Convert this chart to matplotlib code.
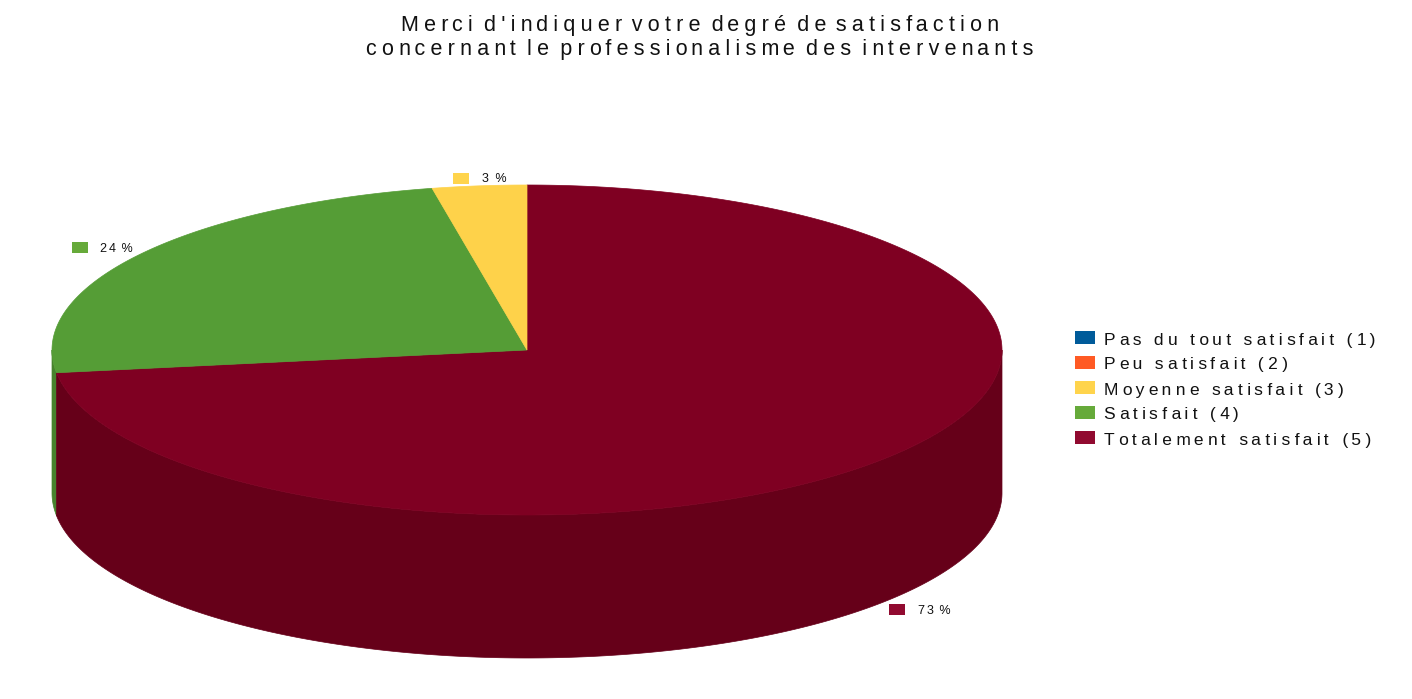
#!/usr/bin/env python

import numpy as np
import matplotlib
matplotlib.use('Agg')
import matplotlib.pyplot as plt

title = "Merci d'indiquer votre degré de satisfaction\nconcernant le professionalisme des intervenants"
categories = ['Pas du tout satisfait (1)', 'Peu satisfait (2)', 'Moyenne satisfait (3)',
              'Satisfait (4)', 'Totalement satisfait (5)']
shares = [0, 0, 3.2, 24.0, 72.8]
key_colors = ['#005b9a', '#ff5a24', '#ffd44c', '#66aa3a', '#910a30']
top_colors = ['#005b9a', '#ff5a24', '#fed24a', '#559d36', '#7f0022']
side_colors = ['#004a7c', '#cc481d', '#cba83b', '#47832d', '#660019']

# pie geometry, in image pixels
cx, cy, rx, ry, depth = 527, 350, 475, 165, 143
# where the value tags sit (swatch left, middle y)
tag_pos = {2: (453, 178.5), 3: (72, 247.5), 4: (889, 609.5)}


def spaced(s, track, tight_words=False):
    # no letter spacing in matplotlib, so pad with hair spaces
    lines = []
    for line in s.split('\n'):
        out = ''
        done = 0
        count = 0
        for k, ch in enumerate(line):
            out += ch
            if k == len(line) - 1:
                break
            if tight_words and line[k + 1] == ' ':
                continue
            count += 1
            n = int(round(count * track)) - done
            done += n
            out += '\u200a' * n
        lines.append(out)
    return '\n'.join(lines)


def rim(t):
    t = np.radians(t)
    return cx + rx * np.sin(t), cy - ry * np.cos(t)


fig = plt.figure(figsize=(14.12, 6.99), dpi=100)
ax = fig.add_axes([0, 0, 1, 1])
ax.set_xlim(0, 1412)
ax.set_ylim(699, 0)
ax.axis('off')
plt.rcParams['font.family'] = ['Liberation Sans', 'DejaVu Sans']

# slices run clockwise from 12 o'clock, last category first
order = [i for i in range(len(shares) - 1, -1, -1) if shares[i] > 0]
start = 0.0
spans = {}
for i in order:
    spans[i] = (start, start + shares[i] * 3.6)
    start += shares[i] * 3.6

# walls first, only the part facing front
for i in order[::-1]:
    a = max(spans[i][0], 90)
    b = min(spans[i][1], 270)
    if b <= a:
        continue
    t = np.linspace(a, b, 300)
    x, y = rim(t)
    ax.fill(np.r_[x, x[::-1]], np.r_[y, y[::-1] + depth],
            color=side_colors[i], lw=0.5, zorder=2)

for i in order:
    t = np.linspace(spans[i][0], spans[i][1], 400)
    x, y = rim(t)
    ax.fill(np.r_[cx, x], np.r_[cy, y], color=top_colors[i], lw=0.5, zorder=3)

for i, (sx, sy) in tag_pos.items():
    ax.fill([sx, sx + 16, sx + 16, sx], [sy - 5.5, sy - 5.5, sy + 5.5, sy + 5.5],
            color=key_colors[i], lw=0, zorder=4)
    ax.text(sx + 28.5, sy + 4, spaced('%.0f %%' % shares[i], 1.5), fontsize=9, va='baseline',
            color='#111111', zorder=5)

ax.text(700, 55.5, spaced(title, 2.83, tight_words=True), fontsize=15.5, ha='center', va='baseline',
        multialignment='center', color='#111111', linespacing=1.25)

for k, name in enumerate(categories):
    y = 337.5 + 25 * k
    ax.fill([1075, 1095, 1095, 1075], [y - 6.5, y - 6.5, y + 6.5, y + 6.5],
            color=key_colors[k], lw=0, zorder=4)
    ax.text(1104, y + 7, spaced(name, 2.6), fontsize=12.5, va='baseline', color='#111111')

fig.savefig('out.png', dpi=100)
